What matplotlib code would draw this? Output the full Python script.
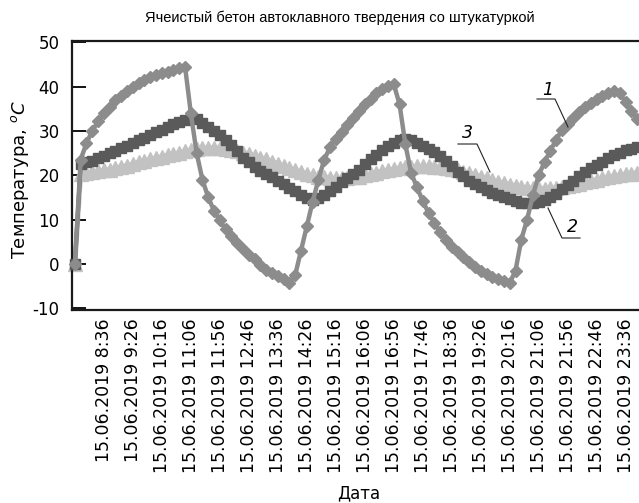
import numpy as np
import matplotlib
matplotlib.use("Agg")
import matplotlib.pyplot as plt

plt.rcParams['font.family'] = ['DejaVu Sans']
plt.rcParams['axes.unicode_minus'] = False

# --- Data: readings every 10 min starting 15.06.2019 7:46 ---
surface_outer = [
    0.0, 23.5, 27.3, 30.0, 32.2, 34.0, 35.5, 36.9, 38.0, 39.0,
    40.0, 40.8, 41.5, 42.1, 42.6, 43.0, 43.4, 43.8, 44.1, 44.5,
    34.0, 25.0, 19.0, 15.0, 12.0, 9.8, 7.8, 6.2, 4.8, 3.3,
    2.1, 1.0, -0.3, -1.3, -2.1, -2.8, -3.4, -4.2, -2.5, 3.0,
    8.5, 14.0, 19.0, 23.5, 26.3, 28.2, 29.8, 31.4, 33.0, 34.6,
    36.0, 37.3, 38.5, 39.4, 40.1, 40.6, 36.0, 27.0, 20.5, 17.3,
    14.2, 11.5, 9.3, 7.2, 5.3, 3.8, 2.6, 1.6, 0.5, -0.6,
    -1.6, -2.3, -2.9, -3.4, -3.9, -4.3, -1.5, 5.5, 10.0, 15.5,
    20.0, 23.0, 25.5, 28.0, 30.2, 31.6, 32.9, 34.2, 35.4, 36.4,
    37.3, 38.0, 38.6, 39.1, 38.5, 36.5, 34.5, 32.8,
]
interface = [
    0.0, 22.5, 22.9, 23.3, 23.8, 24.4, 25.0, 25.5, 26.1, 26.7,
    27.3, 27.9, 28.5, 29.1, 29.7, 30.3, 30.9, 31.5, 32.0, 32.5,
    33.0, 32.6, 31.8, 30.9, 30.0, 29.0, 28.0, 26.8, 25.4, 24.0,
    22.9, 21.8, 20.9, 20.2, 19.5, 18.8, 18.0, 17.2, 16.4, 15.6,
    14.9, 14.5, 14.8, 15.6, 16.4, 17.4, 18.4, 19.4, 20.3, 21.3,
    22.5, 23.6, 24.6, 25.6, 26.5, 27.3, 27.9, 28.2, 27.9, 27.3,
    26.7, 26.0, 25.2, 24.3, 23.2, 22.0, 20.8, 19.8, 18.8, 18.0,
    17.3, 16.7, 16.1, 15.6, 15.1, 14.6, 14.2, 13.8, 13.7, 13.8,
    14.0, 14.4, 15.0, 15.8, 16.8, 17.8, 18.8, 19.8, 20.7, 21.6,
    22.4, 23.1, 23.8, 24.5, 25.1, 25.6, 26.0, 26.3,
]
surface_inner = [
    0.0, 20.3, 20.5, 20.7, 20.9, 21.1, 21.3, 21.6, 21.9, 22.2,
    22.5, 22.9, 23.2, 23.6, 23.9, 24.2, 24.5, 24.8, 25.1, 25.4,
    25.7, 25.9, 26.1, 26.2, 26.2, 26.1, 25.9, 25.7, 25.4, 25.1,
    24.8, 24.4, 24.0, 23.6, 23.1, 22.6, 22.1, 21.6, 21.1, 20.7,
    20.3, 20.0, 19.7, 19.5, 19.4, 19.3, 19.3, 19.4, 19.5, 19.7,
    20.0, 20.3, 20.6, 20.9, 21.2, 21.4, 21.6, 21.8, 21.9, 22.0,
    22.0, 22.0, 21.9, 21.8, 21.6, 21.4, 21.1, 20.8, 20.5, 20.1,
    19.7, 19.3, 18.9, 18.5, 18.2, 17.9, 17.6, 17.4, 17.2, 17.1,
    17.0, 17.0, 17.1, 17.2, 17.4, 17.6, 17.8, 18.1, 18.4, 18.7,
    19.0, 19.3, 19.6, 19.8, 20.0, 20.2, 20.4, 20.6,
]

tick_times = ["8:36", "9:26", "10:16", "11:06", "11:56", "12:46", "13:36",
              "14:26", "15:16", "16:06", "16:56", "17:46", "18:36", "19:26",
              "20:16", "21:06", "21:56", "22:46", "23:36"]
tick_index = list(range(5, 5 + 5 * len(tick_times), 5))
tick_labels = ["15.06.2019 " + t for t in tick_times]

# --- Figure ---
fig = plt.figure(figsize=(6.39, 5.03), dpi=100)
ax = fig.add_axes([72 / 639, 1 - 310 / 503, 1 - 72 / 639, (310 - 41) / 503])

idx = np.arange(len(surface_outer))
ax.plot(idx, surface_inner, color='#c2c2c2', lw=3.5, marker='^', ms=9.5,
        mec='#c2c2c2', clip_on=False, zorder=2)
ax.plot(idx, interface, color='#5a5a5a', lw=3, marker='s', ms=7,
        mec='#5a5a5a', clip_on=False, zorder=3)
ax.plot(idx, surface_outer, color='#8c8c8c', lw=3.2, marker='D', ms=6.3,
        mec='#8c8c8c', clip_on=False, zorder=4)

ax.set_xlim(-0.5, 97.3)
ax.set_ylim(-10.4, 50.3)
ax.set_yticks(range(-10, 51, 10))
ax.set_xticks(tick_index)
ax.set_xticklabels(tick_labels, rotation=90, fontsize=12.5)
ax.tick_params(axis='y', direction='in', length=10, width=1.3, pad=9,
               labelsize=12)
ax.tick_params(axis='x', length=0, pad=6)

ax.spines['right'].set_visible(False)
for s in ('left', 'top', 'bottom'):
    ax.spines[s].set_linewidth(1.6)
    ax.spines[s].set_color('#1a1a1a')

# curve numbers with leader lines
def tag(text, tx, ty, x0, x1, yl, x2, y2):
    fig.text(tx / 639, 1 - ty / 503, text, fontsize=12.5, style='italic',
             ha='center', va='center')
    fig.add_artist(plt.Line2D([x0 / 639, x1 / 639, x2 / 639],
                              [1 - yl / 503, 1 - yl / 503, 1 - y2 / 503],
                              color='#222222', lw=0.8))

tag('1', 548, 90, 537, 555, 99, 568, 127)
tag('3', 467, 133, 458, 477, 144, 490, 172)
tag('2', 572, 227, 580, 562, 238, 548, 208)

fig.text(340 / 639, 1 - 18 / 503,
         'Ячеистый бетон автоклавного твердения со штукатуркой',
         ha='center', va='center', fontsize=10.5, family='Liberation Sans')
fig.text(20 / 639, 1 - 180 / 503, 'Температура, $^{o}$$\\mathit{C}$',
         rotation=90, ha='center', va='center', fontsize=13)
fig.text(359 / 639, 1 - 493 / 503, 'Дата', ha='center', va='center',
         fontsize=12)

fig.savefig('out.png', dpi=100)
